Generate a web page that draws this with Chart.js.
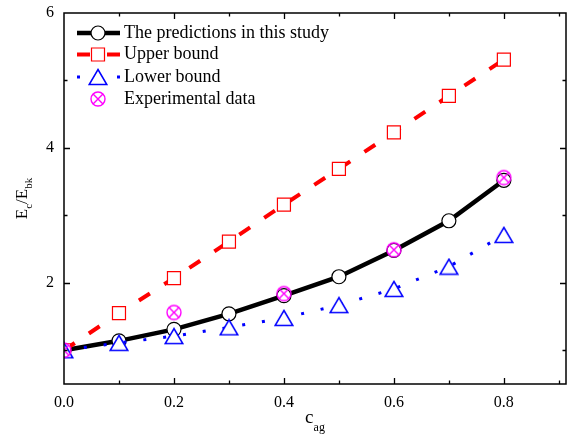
<!DOCTYPE html>
<html>
<head>
<meta charset="utf-8">
<script src="https://cdn.jsdelivr.net/npm/chart.js@4.4.1/dist/chart.umd.min.js"></script>
<style>
  html, body { margin: 0; padding: 0; background: #fff; }
  #wrap { width: 571px; height: 444px; position: relative; }
</style>
</head>
<body>
<div id="wrap"><canvas id="myChart"></canvas></div>
<script>
// aggregate content c_ag and normalised modulus E_c/E_bk
const cag = [0, 0.1, 0.2, 0.3, 0.4, 0.5, 0.6, 0.7, 0.8];
const predictions = [1.0, 1.14, 1.31, 1.54, 1.81, 2.09, 2.48, 2.92, 3.52];
const upperBound = [1.0, 1.55, 2.07, 2.61, 3.16, 3.69, 4.23, 4.77, 5.31];
const lowerBound = [1.0, 1.11, 1.21, 1.34, 1.48, 1.67, 1.91, 2.24, 2.71];
const expCag = [0, 0.2, 0.4, 0.6, 0.8];
const expData = [1.0, 1.56, 1.84, 2.49, 3.56];

const xTicks = [0, 0.2, 0.4, 0.6, 0.8];
const yTicks = [2, 4, 6];

const serif = "'Liberation Serif', 'Times New Roman', serif";

function toPoints(xs, ys) {
  return xs.map((x, i) => ({ x: x, y: ys[i] }));
}

// open triangle, centred on its bounding box
function triangleMarker() {
  const c = document.createElement("canvas");
  c.width = 20;
  c.height = 18;
  const g = c.getContext("2d");
  g.fillStyle = "#fff";
  g.strokeStyle = "#0000ff";
  g.lineWidth = 1.5;
  g.beginPath();
  g.moveTo(10, 1.5);
  g.lineTo(18.8, 16.5);
  g.lineTo(1.2, 16.5);
  g.closePath();
  g.fill();
  g.stroke();
  return c;
}

// circle with a cross inside
function crossCircleMarker() {
  const c = document.createElement("canvas");
  c.width = 18;
  c.height = 18;
  const g = c.getContext("2d");
  g.strokeStyle = "#ff00ff";
  g.lineWidth = 1.4;
  g.beginPath();
  g.arc(9, 9, 7, 0, Math.PI * 2);
  g.stroke();
  const d = 5.2;
  g.beginPath();
  g.moveTo(9 - d, 9 - d);
  g.lineTo(9 + d, 9 + d);
  g.moveTo(9 + d, 9 - d);
  g.lineTo(9 - d, 9 + d);
  g.stroke();
  return c;
}

const triImg = triangleMarker();
const crossImg = crossCircleMarker();

const datasets = [
  {
    label: "The predictions in this study",
    data: toPoints(cag, predictions),
    borderColor: "#000",
    borderWidth: 4.5,
    pointStyle: "circle",
    pointRadius: 7,
    pointBackgroundColor: "#fff",
    pointBorderColor: "#000",
    pointBorderWidth: 1.2,
    clip: 0,
    order: 4,
  },
  {
    label: "Upper bound",
    data: toPoints(cag, upperBound),
    borderColor: "#ff0000",
    borderWidth: 4,
    borderDash: [13, 17],
    pointStyle: "rect",
    pointRadius: 9.2,
    pointBackgroundColor: "#fff",
    pointBorderColor: "#ff0000",
    pointBorderWidth: 1.2,
    clip: 0,
    order: 3,
  },
  {
    label: "Lower bound",
    data: toPoints(cag, lowerBound),
    borderColor: "#0000ff",
    borderWidth: 3,
    borderDash: [3, 17],
    pointStyle: triImg,
    pointRadius: 9,
    clip: 0,
    order: 2,
  },
  {
    label: "Experimental data",
    data: toPoints(expCag, expData),
    showLine: false,
    borderColor: "#ff00ff",
    pointStyle: crossImg,
    pointRadius: 8,
    clip: 0,
    order: 1,
  },
];

// frame with inward ticks on all four sides
const frameAndTicks = {
  id: "frameAndTicks",
  afterDatasetsDraw(chart) {
    const { ctx, chartArea: { left, top, right, bottom }, scales: { x, y } } = chart;
    ctx.save();
    ctx.strokeStyle = "#000";
    ctx.lineWidth = 1.5;
    ctx.strokeRect(left, top, right - left, bottom - top);
    ctx.lineWidth = 1.3;
    ctx.beginPath();
    for (let v = 0.1; v < 0.91; v += 0.1) {
      const px = Math.round(x.getPixelForValue(v)) + 0.5;
      const major = Math.abs(v * 5 - Math.round(v * 5)) < 1e-6;
      const len = major ? 6 : 3.5;
      ctx.moveTo(px, bottom);
      ctx.lineTo(px, bottom - len);
      ctx.moveTo(px, top);
      ctx.lineTo(px, top + len);
    }
    for (let v = 1; v < 6; v++) {
      const py = Math.round(y.getPixelForValue(v)) + 0.5;
      const len = v % 2 === 0 ? 6 : 3.5;
      ctx.moveTo(left, py);
      ctx.lineTo(left + len, py);
      ctx.moveTo(right, py);
      ctx.lineTo(right - len, py);
    }
    ctx.stroke();
    ctx.restore();
  },
};

// axis titles with subscripts
const axisTitles = {
  id: "axisTitles",
  afterDraw(chart) {
    const { ctx, chartArea: { left, right, top, bottom } } = chart;
    ctx.save();
    ctx.fillStyle = "#000";
    ctx.textBaseline = "alphabetic";

    // x title: c_ag
    const big = "19px " + serif;
    const small = "12px " + serif;
    ctx.font = big;
    const wc = ctx.measureText("c").width;
    ctx.font = small;
    const wag = ctx.measureText("ag").width;
    let cx = (left + right) / 2 - (wc + wag) / 2;
    ctx.font = big;
    ctx.fillText("c", cx, 423);
    ctx.font = small;
    ctx.fillText("ag", cx + wc, 431);

    // y title: E_c/E_bk, rotated
    ctx.translate(27, (top + bottom) / 2);
    ctx.rotate(-Math.PI / 2);
    const parts = [
      ["E", "17px " + serif, 0],
      ["c", "11px " + serif, 5],
      ["/E", "17px " + serif, 0],
      ["bk", "11px " + serif, 5],
    ];
    let total = 0;
    parts.forEach(p => { ctx.font = p[1]; total += ctx.measureText(p[0]).width; });
    let px = -total / 2;
    parts.forEach(p => {
      ctx.font = p[1];
      ctx.fillText(p[0], px, p[2]);
      px += ctx.measureText(p[0]).width;
    });
    ctx.restore();
  },
};

// legend with line sample and marker
const lineLegend = {
  id: "lineLegend",
  afterDraw(chart) {
    const { ctx } = chart;
    const rows = [33, 54.5, 77, 99];
    ctx.save();
    chart.data.datasets.forEach((ds, i) => {
      const ry = rows[i];
      if (ds.showLine !== false) {
        ctx.strokeStyle = ds.borderColor;
        ctx.lineWidth = ds.borderWidth;
        ctx.setLineDash(ds.borderDash || []);
        ctx.beginPath();
        ctx.moveTo(77, ry);
        ctx.lineTo(120, ry);
        ctx.stroke();
        ctx.setLineDash([]);
      }
      const ps = ds.pointStyle;
      if (typeof ps === "string") {
        ctx.fillStyle = ds.pointBackgroundColor;
        ctx.strokeStyle = ds.pointBorderColor;
        ctx.lineWidth = ds.pointBorderWidth;
        Chart.helpers.drawPoint(ctx, { pointStyle: ps, radius: ds.pointRadius, rotation: 0, borderWidth: ds.pointBorderWidth }, 98, ry);
      } else {
        ctx.drawImage(ps, 98 - ps.width / 2, ry - ps.height / 2);
      }
      ctx.fillStyle = "#000";
      ctx.font = "18px " + serif;
      ctx.textBaseline = "middle";
      ctx.fillText(ds.label, 124, ry);
    });
    ctx.restore();
  },
};

const config = {
  type: "line",
  data: { datasets: datasets },
  options: {
    responsive: true,
    maintainAspectRatio: false,
    animation: false,
    devicePixelRatio: 1,
    layout: { autoPadding: false, padding: { top: 13, right: 5, left: 0, bottom: 0 } },
    plugins: {
      legend: { display: false },
      tooltip: { enabled: false },
    },
    elements: { line: { tension: 0 } },
    scales: {
      x: {
        type: "linear",
        min: 0,
        max: 0.913,
        grid: { display: false, drawTicks: false, tickLength: 0 },
        border: { display: false },
        afterFit(scale) {
          scale.height = 60;
          scale.paddingLeft = 0;
          scale.paddingRight = 0;
        },
        afterBuildTicks(scale) { scale.ticks = xTicks.map(v => ({ value: v })); },
        ticks: {
          padding: 9,
          color: "#000",
          font: { family: serif, size: 16 },
          callback: v => v.toFixed(1),
        },
      },
      y: {
        min: 0.5,
        max: 6,
        grid: { display: false, drawTicks: false, tickLength: 0 },
        border: { display: false },
        afterFit(scale) {
          scale.width = 64;
          scale.paddingTop = 0;
          scale.paddingBottom = 0;
        },
        afterBuildTicks(scale) { scale.ticks = yTicks.map(v => ({ value: v })); },
        ticks: {
          padding: 10,
          color: "#000",
          font: { family: serif, size: 16 },
        },
      },
    },
  },
  plugins: [frameAndTicks, axisTitles, lineLegend],
};

const myChart = new Chart(document.getElementById("myChart"), config);
</script>
</body>
</html>
